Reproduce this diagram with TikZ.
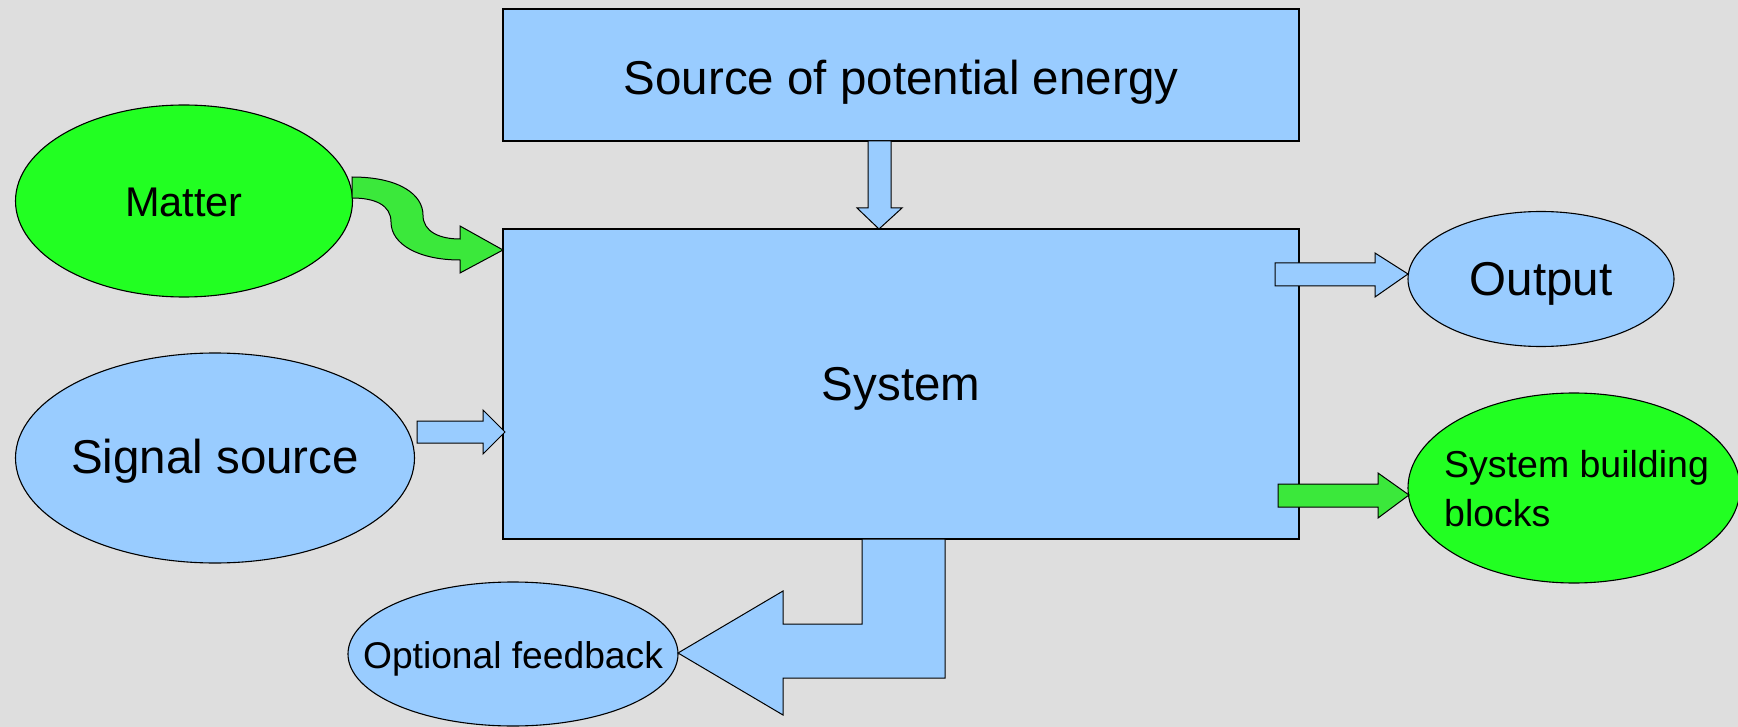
\documentclass[tikz,border=0pt]{standalone}
\usepackage{fontspec}
\setmainfont{Liberation Sans}
\usetikzlibrary{shapes.geometric}
\definecolor{bg}{HTML}{DEDEDE}
\definecolor{sky}{HTML}{99CCFF}
\definecolor{leaf}{HTML}{22FF22}
\definecolor{leafarrow}{HTML}{3BE83B}

\begin{document}
\begin{tikzpicture}[x=1pt, y=-1pt, line join=miter,
  outline/.style={draw=black, line width=1.1pt},
  box/.style={outline, fill=sky, rectangle, inner sep=0pt},
  blob/.style={outline, ellipse, inner sep=0pt},
  bigtext/.style={font=\fontsize{47.5}{57}\selectfont},
  label/.style={inner sep=0pt},
  blockarrow/.style={outline, line width=1pt}
]
  % canvas
  \useasboundingbox (0,0) rectangle (1738,727);
  \fill[bg] (0,0) rectangle (1738,727);
  \clip (0,0) rectangle (1738,727);

  % main blocks
  \node[box, minimum width=796pt, minimum height=132pt] (energy) at (901,75) {};
  \node[box, minimum width=796pt, minimum height=310pt] (system) at (901,384) {};

  % surrounding ellipses
  \node[blob, fill=leaf, minimum width=337pt, minimum height=192pt] (matter) at (184,201) {};
  \node[blob, fill=sky,  minimum width=399pt, minimum height=210pt] (signal) at (215,458) {};
  \node[blob, fill=sky,  minimum width=266pt, minimum height=135pt] (output) at (1541,279) {};
  \node[blob, fill=leaf, minimum width=332pt, minimum height=190pt] (blocks) at (1574,488) {};
  \node[blob, fill=sky,  minimum width=330pt, minimum height=144pt] (feedback) at (513,654) {};

  % labels
  \node[label, bigtext, yshift=-7pt] (energylabel) at (energy.center) {Source of potential energy};
  \node[label, bigtext, yshift=-5pt] (systemlabel) at (system.center) {System};
  \node[label, font=\fontsize{41.5}{50}\selectfont, yshift=-1pt] (matterlabel) at (matter.center) {Matter};
  \node[label, bigtext, yshift=-3pt] (signallabel) at (signal.center) {Signal source};
  \node[label, bigtext, yshift=-5pt] (outputlabel) at (output.center) {Output};
  \node[label, anchor=west, align=left, font=\fontsize{37.5}{49}\selectfont, yshift=-1pt] (blockslabel) at (1444,488) {System building\\blocks};
  \node[label, font=\fontsize{37.2}{46}\selectfont, yshift=-5pt] (feedbacklabel) at (feedback.center) {Optional feedback};

  % energy into the system
  \draw[blockarrow, fill=sky] (868,141) -- (891,141) -- (891,208) -- (902,208) -- (879,229)
    -- (857,208) -- (868,208) -- cycle;

  % matter into the system
  \draw[blockarrow, fill=leafarrow] (352,177) .. controls (400,177) and (423,195) .. (423,215)
    .. controls (423,232) and (440,239) .. (460,239) -- (460,226) -- (503,250) -- (460,273)
    -- (460,260) .. controls (420,260) and (391,245) .. (391,222)
    .. controls (391,205) and (375,198) .. (352,198) -- cycle;

  % signal into the system
  \draw[blockarrow, fill=sky] (417,421) -- (483,421) -- (483,410) -- (505,432) -- (483,454)
    -- (483,443) -- (417,443) -- cycle;

  % system to output
  \draw[blockarrow, fill=sky] (1275,263) -- (1375,263) -- (1375,253) -- (1408,274) -- (1375,297)
    -- (1375,286) -- (1275,286) -- cycle;

  % system to building blocks
  \draw[blockarrow, fill=leafarrow] (1278,484) -- (1378,484) -- (1378,473) -- (1409,495)
    -- (1378,518) -- (1378,507) -- (1278,507) -- cycle;

  % feedback path
  \draw[blockarrow, fill=sky] (862,539) -- (945,539) -- (945,678) -- (783,678) -- (783,715)
    -- (678,653) -- (783,591) -- (783,624) -- (862,624) -- cycle;
\end{tikzpicture}
\end{document}
